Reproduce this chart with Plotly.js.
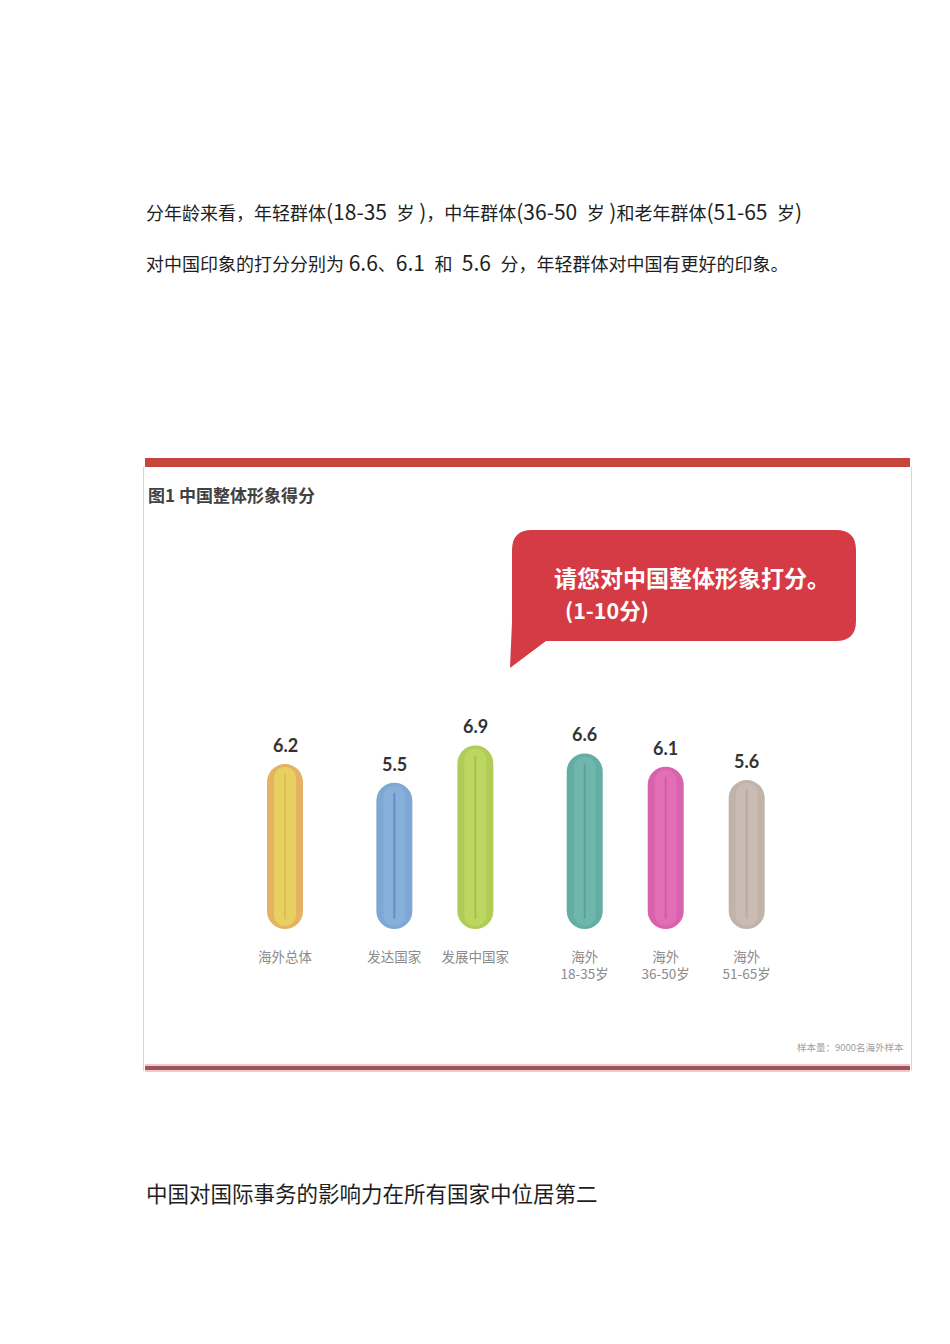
<!DOCTYPE html>
<html>
<head>
<meta charset="utf-8">
<script src="https://cdn.plot.ly/plotly-3.0.1.min.js"></script>
<style>
  html,body{margin:0;padding:0;background:#fff;}
  #page{width:950px;height:1344px;}
  /* extremos redondeados para las barras-píldora */
  #page .scatterlayer .js-line{stroke-linecap:round;}
</style>
</head>
<body>
<div id="page"></div>
<script>
(function(){
  // --------- Datos ---------
  const categories = ['海外总体','发达国家','发展中国家','海外<br>18-35岁','海外<br>36-50岁','海外<br>51-65岁'];
  const scores     = [6.2, 5.5, 6.9, 6.6, 6.1, 5.6];

  // --------- Layout (posiciones/estilos) ---------
  const W = 950, H = 1344;
  const slots   = [0, 1.35, 2.35, 3.7, 4.7, 5.7];      // separación de los grupos en el eje
  const edgeCol = ['#E4B262','#7EA7D4','#B0CC57','#64ADA3','#D962AD','#C2B3A9'];
  const midCol  = ['#E7CF60','#86AFDA','#BCD662','#6FB7AD','#E26EB7','#CBBCB3'];
  const lineCol = ['#DDBE50','#648DC2','#A5C14C','#5CA197','#CF5DA4','#BAABA1'];

  const X0PX = 285, XUNIT = 81;        // pixel de slot 0, px por unidad
  const Y0PX = 929, YUNIT = 26.6;      // pixel del valor 0, px por punto
  const YMAX = 10;

  const px = x => x / W;
  const py = y => 1 - y / H;

  // píldora = línea gruesa con remate redondo, de 0 a valor
  function pill(widthPx, insetPx, colors){
    const r = (widthPx/2 + insetPx) / YUNIT;
    return scores.map((v,i) => ({
      type:'scatter', mode:'lines', x:[slots[i], slots[i]], y:[r, v - r],
      line:{color:colors[i], width:widthPx}, hoverinfo:'skip', showlegend:false, cliponaxis:false
    }));
  }

  const traces = [].concat(
    pill(36, 0, edgeCol),
    pill(22, 3, midCol),
    pill(2, 10, lineCol)
  );

  // --------- Textos ---------
  const CJK = '"Noto Sans CJK SC", sans-serif';
  const NB = '\u00A0';
  const txt = (x, y, text, size, opts={}) => Object.assign({
    xref:'paper', yref:'paper', x:px(x), y:py(y), text, showarrow:false,
    xanchor:'left', yanchor:'middle',
    font:{family:CJK, size, color:'#1e1e1e'}
  }, opts);
  const big = s => '<span style="font-size:21px">'+s+'</span>';

  const annotations = [
    txt(144, 211, '分年龄来看，年轻群体'+big('(18-35'+NB+NB)+'岁'+big(NB+')')+'，中年群体'+big('(36-50'+NB+NB)+'岁'+big(NB+')')+
                  '和老年群体'+big('(51-65'+NB+NB)+'岁'+big(')'), 18),
    txt(144, 262, '对中国印象的打分分别为'+big(NB+'6.6')+'、'+big('6.1'+NB+NB)+'和'+big(NB+NB+'5.6'+NB+NB)+'分，年轻群体对中国有更好的印象。', 18),
    txt(144, 1192, '中国对国际事务的影响力在所有国家中位居第二', 21.5),
    txt(146, 494, '<b>图1 中国整体形象得分</b>', 17, {font:{family:CJK, size:17, color:'#414141'}}),
    txt(552, 577, '<b>请您对中国整体形象打分。</b>', 23, {font:{family:CJK, size:23, color:'#ffffff'}}),
    txt(563, 609, '<b>(1-10分)</b>', 21.5, {font:{family:CJK, size:21.5, color:'#ffffff'}}),
    txt(906, 1047, '样本量：9000名海外样本', 9.5, {xanchor:'right', font:{family:CJK, size:9.5, color:'#a0a0a0'}})
  ];

  scores.forEach((v,i) => annotations.push({
    xref:'x', yref:'y', x:slots[i], y:v, text:'<b>'+v.toFixed(1)+'</b>', showarrow:false,
    yanchor:'bottom', yshift:6,
    font:{family:'Lato, "Open Sans", sans-serif', size:18, color:'#333333'}
  }));

  // --------- Formas ---------
  const P = (x,y) => px(x).toFixed(5)+','+py(y).toFixed(5);
  const L=512, T=530, R=856, B=641, rr=20;
  const bubble = 'M'+P(L+rr,T)+' L'+P(R-rr,T)+' Q'+P(R,T)+' '+P(R,T+rr)+
                 ' L'+P(R,B-rr)+' Q'+P(R,B)+' '+P(R-rr,B)+
                 ' L'+P(546,B)+' L'+P(510,668)+' L'+P(L,622)+
                 ' L'+P(L,T+rr)+' Q'+P(L,T)+' '+P(L+rr,T)+' Z';

  const rect = (x0,y0,x1,y1,color) => ({type:'rect', xref:'paper', yref:'paper',
      x0:px(x0), x1:px(x1), y0:py(y0), y1:py(y1), fillcolor:color, line:{width:0}, layer:'below'});
  const vline = (x,y0,y1,color) => ({type:'line', xref:'paper', yref:'paper',
      x0:px(x), x1:px(x), y0:py(y0), y1:py(y1), line:{color, width:1}, layer:'below'});

  const shapes = [
    rect(145, 458, 910, 467, '#C7463B'),
    vline(143.5, 467, 1071, '#d6d6d6'),
    vline(911.5, 467, 1071, '#d6d6d6'),
    rect(145, 1064, 910, 1072, '#F1C9C6'),
    rect(145, 1066, 910, 1070, '#9D545A'),
    {type:'path', xref:'paper', yref:'paper', path:bubble, fillcolor:'#D53B45', line:{width:0}, layer:'below'}
  ];

  const layout = {
    width:W, height:H, margin:{l:0,r:0,t:0,b:0},
    paper_bgcolor:'#ffffff', plot_bgcolor:'rgba(0,0,0,0)',
    showlegend:false,
    xaxis:{domain:[0,1], range:[-X0PX/XUNIT, (W-X0PX)/XUNIT], tickvals:slots, ticktext:categories,
           showgrid:false, zeroline:false, showline:false, ticks:'', ticklabelstandoff:18,
           tickfont:{family:CJK, size:13.5, color:'#8c8c8c'}, fixedrange:true},
    yaxis:{domain:[py(Y0PX), py(Y0PX - YMAX*YUNIT)], range:[0, YMAX], visible:false, fixedrange:true},
    shapes, annotations
  };

  Plotly.newPlot('page', traces, layout, {staticPlot:true, displayModeBar:false});
})();
</script>
</body>
</html>
